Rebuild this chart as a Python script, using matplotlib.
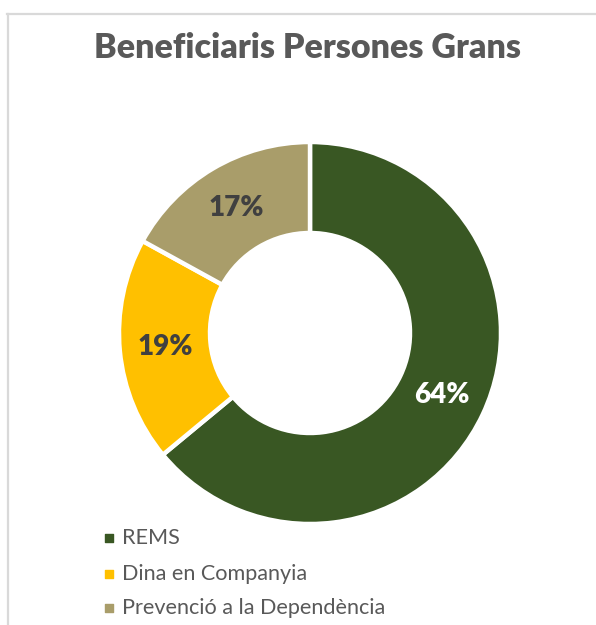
import matplotlib
matplotlib.use("Agg")
from matplotlib import pyplot as plt
from matplotlib.lines import Line2D

title = "Beneficiaris Persones Grans"
categories = ["REMS", "Dina en Companyia", "Prevenció a la Dependència"]
values = [64, 19, 17]
colors = ["#395723", "#FFC000", "#A99D6A"]
label_colors = ["white", "#404040", "#404040"]

fig = plt.figure(figsize=(5.96, 6.25), dpi=100)
ax = fig.add_axes([0, 0, 1, 1])

# chart frame (cut by the image at right and bottom)
fig.add_artist(Line2D([7 / 596, 1], [1 - 14 / 625] * 2, color="#D9D9D9", lw=1.6))
fig.add_artist(Line2D([8 / 596] * 2, [0, 1 - 14 / 625], color="#D9D9D9", lw=1.6))

outer = 191
inner = 100
# y axis is inverted below, so -90 is the top and counterclock turns clockwise
wedges, texts, autotexts = ax.pie(
    values, colors=colors, center=(310, 333), radius=outer,
    startangle=-90, counterclock=True, autopct="%d%%",
    pctdistance=(outer + inner) / 2 / outer,
    wedgeprops=dict(width=outer - inner, edgecolor="white", linewidth=3.2),
    textprops=dict(fontsize=20, fontweight="heavy", family="Lato"),
)
for t, c in zip(autotexts, label_colors):
    t.set_color(c)

ax.set_xlim(0, 596)
ax.set_ylim(625, 0)
ax.set_aspect("equal")
ax.axis("off")

ax.text(307, 48, title, ha="center", va="center", fontsize=24.5,
        fontweight="heavy", family="Lato", color="#595959")

rows = [538, 574, 608]
for name, c, y in zip(categories, colors, rows):
    ax.scatter([109], [y], marker="s", s=30, color=c)
    ax.text(122, y, name, ha="left", va="center", fontsize=15.6,
            family="Lato", color="#595959")

fig.savefig("out.png", dpi=100)
